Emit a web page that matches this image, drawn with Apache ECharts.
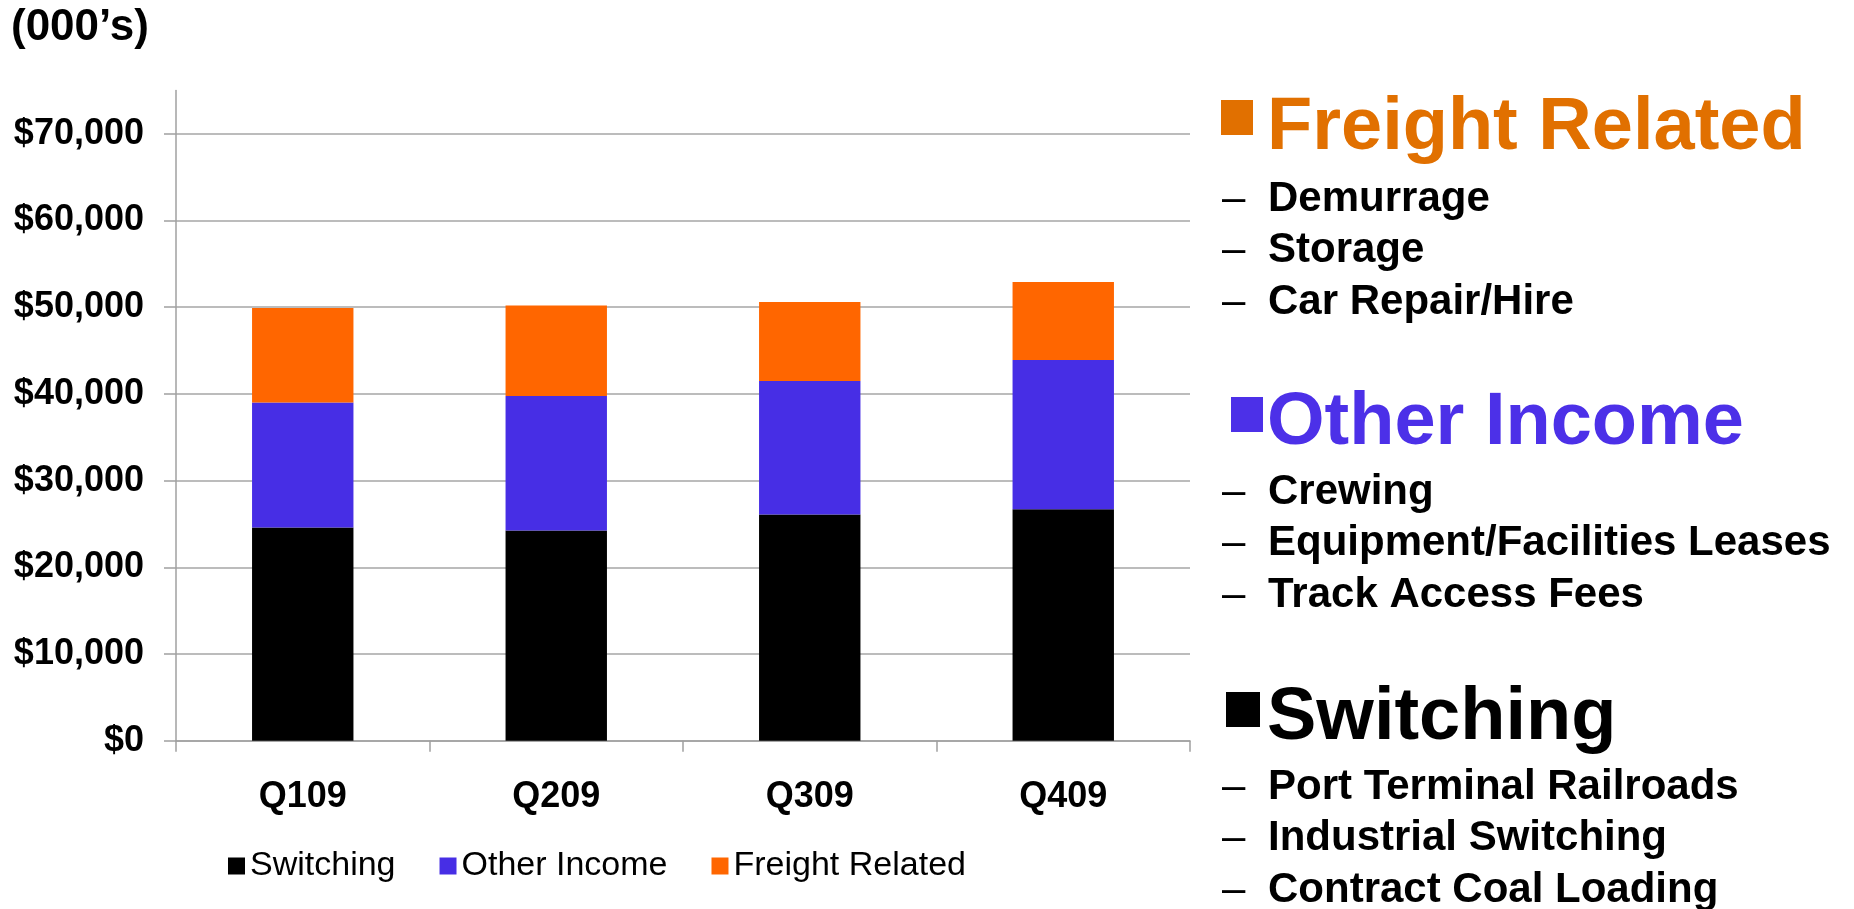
<!DOCTYPE html>
<html>
<head>
<meta charset="utf-8">
<title>Revenue by quarter</title>
<script src="https://cdn.jsdelivr.net/npm/echarts@6.0.0/dist/echarts.min.js"></script>
<style>
  html, body { margin: 0; padding: 0; background: #fff; }
  #chart { width: 1854px; height: 909px; }
</style>
</head>
<body>
<div id="chart"></div>
<script>
// 季度
var quarters = ['Q109', 'Q209', 'Q309', 'Q409'];
// 数据 (000's)
var switching = [24600, 24250, 26100, 26700];
var otherIncome = [14400, 15500, 15400, 17200];
var freightRelated = [10900, 10450, 9100, 9000];
var yTicks = [0, 10000, 20000, 30000, 40000, 50000, 60000, 70000];

// 右侧说明
var freightItems = ['Demurrage', 'Storage', 'Car Repair/Hire'];
var otherItems = ['Crewing', 'Equipment/Facilities Leases', 'Track Access Fees'];
var switchingItems = ['Port Terminal Railroads', 'Industrial Switching', 'Contract Coal Loading'];

var FONT = '"Liberation Sans", Arial, sans-serif';

// one block of the note: square, big title, dashed items
function noteBlock(title, color, items, sq, titleY, itemY) {
  var els = [
    { type: 'rect', shape: { x: sq[0], y: sq[1], width: sq[2], height: sq[3] }, style: { fill: color } },
    { type: 'text', x: 1267, y: titleY, style: { text: title, fill: color, font: 'bold 74px ' + FONT, verticalAlign: 'middle' } }
  ];
  items.forEach(function (t, i) {
    var y = itemY + i * 51.5;
    els.push({ type: 'text', x: 1222, y: y, style: { text: '–', fill: '#000', font: '42px ' + FONT, verticalAlign: 'middle' } });
    els.push({ type: 'text', x: 1268, y: y, style: { text: t, fill: '#000', font: 'bold 42px ' + FONT, verticalAlign: 'middle' } });
  });
  return els;
}

var chart = echarts.init(document.getElementById('chart'));

var graphics = [
  { type: 'text', x: 11, y: 28, style: { text: '(000\u2019s)', fill: '#000', font: 'bold 44px ' + FONT, verticalAlign: 'middle' } }
].concat(
  noteBlock('Freight Related', '#e17000', freightItems, [1221, 100, 32, 35], 129, 199),
  noteBlock('Other Income', '#4c30e8', otherItems, [1231, 397, 32, 35], 424, 492),
  noteBlock('Switching', '#000000', switchingItems, [1226, 692, 34, 35], 719, 787)
);

chart.setOption({
  animation: false,
  textStyle: { fontFamily: FONT },
  grid: { left: 176, right: 664, top: 90.5, bottom: 168.3 },
  legend: {
    left: 228,
    top: 849,
    padding: 0,
    itemGap: 44,
    itemWidth: 17,
    itemHeight: 17,
    icon: 'rect',
    selectedMode: false,
    textStyle: { fontSize: 34, color: '#000', fontFamily: FONT },
    data: ['Switching', 'Other Income', 'Freight Related']
  },
  xAxis: {
    type: 'category',
    data: quarters,
    axisLine: { lineStyle: { color: '#a0a0a0', width: 1.5 } },
    axisTick: { show: true, length: 11, lineStyle: { color: '#a0a0a0', width: 1.5 } },
    axisLabel: { margin: 38, fontSize: 36, fontWeight: 'bold', color: '#000', fontFamily: FONT }
  },
  yAxis: {
    type: 'value',
    min: 0,
    max: 75000,
    interval: 10000,
    axisLine: { show: true, lineStyle: { color: '#a0a0a0', width: 1.5 } },
    axisTick: { show: true, length: 12, customValues: yTicks, lineStyle: { color: '#a0a0a0', width: 1.5 } },
    axisLabel: {
      margin: 32,
      fontSize: 36,
      fontWeight: 'bold',
      color: '#000',
      fontFamily: FONT,
      customValues: yTicks,
      formatter: function (v) { return '$' + echarts.format.addCommas(v); }
    },
    splitLine: {
      show: true,
      lineStyle: { width: 2, color: ['#bcbcbc', '#bcbcbc', '#bcbcbc', '#bcbcbc', '#bcbcbc', '#bcbcbc', '#bcbcbc', '#bcbcbc', 'rgba(0,0,0,0)'] }
    }
  },
  series: [
    { name: 'Switching', type: 'bar', stack: 'total', barWidth: '40%', itemStyle: { color: '#000000' }, data: switching },
    { name: 'Other Income', type: 'bar', stack: 'total', itemStyle: { color: '#472ee5' }, data: otherIncome },
    { name: 'Freight Related', type: 'bar', stack: 'total', itemStyle: { color: '#ff6600' }, data: freightRelated }
  ],
  graphic: graphics
});
</script>
</body>
</html>
